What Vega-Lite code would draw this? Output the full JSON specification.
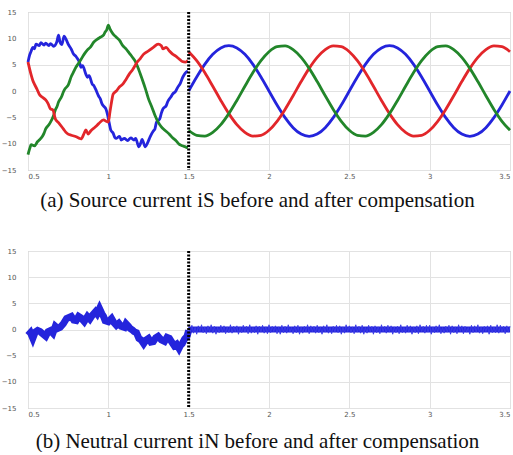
{
"$schema": "https://vega.github.io/schema/vega-lite/v6.json",
"padding": {"left": 0, "top": 7, "right": 0, "bottom": 0},
"background": "white",
"spacing": 35,
"config": {
  "view": {"stroke": "#b8b8b8", "strokeWidth": 1},
  "axis": {"labelFont": "DejaVu Sans", "labelFontSize": 7, "labelColor": "#555555", "labelOverlap": false, "tickSize": 0, "domain": false, "gridColor": "#e2e2e2", "titleFont": "Liberation Serif", "titleFontSize": 21, "titleFontWeight": "normal", "titleColor": "#111111"}
},
"datasets": {
  "marker": [{"t": 1.5}],
  "top": [
    {"ph":"blue","seg":"pre","t":0.5,"v":5.5},{"ph":"blue","seg":"pre","t":0.51,"v":6.8},{"ph":"blue","seg":"pre","t":0.52,"v":7.6},{"ph":"blue","seg":"pre","t":0.53,"v":8.3},{"ph":"blue","seg":"pre","t":0.54,"v":8.0},{"ph":"blue","seg":"pre","t":0.55,"v":8.9},{"ph":"blue","seg":"pre","t":0.57,"v":8.6},{"ph":"blue","seg":"pre","t":0.58,"v":9.2},{"ph":"blue","seg":"pre","t":0.6,"v":8.7},{"ph":"blue","seg":"pre","t":0.61,"v":9.1},{"ph":"blue","seg":"pre","t":0.63,"v":8.6},{"ph":"blue","seg":"pre","t":0.64,"v":9.0},{"ph":"blue","seg":"pre","t":0.66,"v":8.5},{"ph":"blue","seg":"pre","t":0.68,"v":9.4},{"ph":"blue","seg":"pre","t":0.69,"v":10.6},{"ph":"blue","seg":"pre","t":0.7,"v":9.2},{"ph":"blue","seg":"pre","t":0.71,"v":8.8},{"ph":"blue","seg":"pre","t":0.725,"v":10.4},{"ph":"blue","seg":"pre","t":0.74,"v":9.6},{"ph":"blue","seg":"pre","t":0.75,"v":8.9},{"ph":"blue","seg":"pre","t":0.77,"v":7.9},{"ph":"blue","seg":"pre","t":0.78,"v":7.2},{"ph":"blue","seg":"pre","t":0.8,"v":6.5},{"ph":"blue","seg":"pre","t":0.82,"v":5.5},{"ph":"blue","seg":"pre","t":0.83,"v":4.5},{"ph":"blue","seg":"pre","t":0.84,"v":4.8},{"ph":"blue","seg":"pre","t":0.86,"v":3.2},{"ph":"blue","seg":"pre","t":0.87,"v":2.6},{"ph":"blue","seg":"pre","t":0.88,"v":2.9},{"ph":"blue","seg":"pre","t":0.9,"v":1.3},{"ph":"blue","seg":"pre","t":0.91,"v":1.0},{"ph":"blue","seg":"pre","t":0.92,"v":0.4},{"ph":"blue","seg":"pre","t":0.94,"v":-1.0},{"ph":"blue","seg":"pre","t":0.95,"v":-1.5},{"ph":"blue","seg":"pre","t":0.96,"v":-2.4},{"ph":"blue","seg":"pre","t":0.975,"v":-3.0},{"ph":"blue","seg":"pre","t":0.985,"v":-3.4},{"ph":"blue","seg":"pre","t":0.995,"v":-4.5},{"ph":"blue","seg":"pre","t":1.005,"v":-6.0},{"ph":"blue","seg":"pre","t":1.015,"v":-7.4},{"ph":"blue","seg":"pre","t":1.03,"v":-8.0},{"ph":"blue","seg":"pre","t":1.04,"v":-8.8},{"ph":"blue","seg":"pre","t":1.05,"v":-9.0},{"ph":"blue","seg":"pre","t":1.07,"v":-8.6},{"ph":"blue","seg":"pre","t":1.08,"v":-9.3},{"ph":"blue","seg":"pre","t":1.1,"v":-9.0},{"ph":"blue","seg":"pre","t":1.12,"v":-9.4},{"ph":"blue","seg":"pre","t":1.14,"v":-8.9},{"ph":"blue","seg":"pre","t":1.16,"v":-9.3},{"ph":"blue","seg":"pre","t":1.17,"v":-9.0},{"ph":"blue","seg":"pre","t":1.19,"v":-10.6},{"ph":"blue","seg":"pre","t":1.2,"v":-10.0},{"ph":"blue","seg":"pre","t":1.21,"v":-9.2},{"ph":"blue","seg":"pre","t":1.23,"v":-10.6},{"ph":"blue","seg":"pre","t":1.245,"v":-9.8},{"ph":"blue","seg":"pre","t":1.26,"v":-8.7},{"ph":"blue","seg":"pre","t":1.28,"v":-7.6},{"ph":"blue","seg":"pre","t":1.29,"v":-7.2},{"ph":"blue","seg":"pre","t":1.3,"v":-5.9},{"ph":"blue","seg":"pre","t":1.32,"v":-5.3},{"ph":"blue","seg":"pre","t":1.33,"v":-4.2},{"ph":"blue","seg":"pre","t":1.34,"v":-3.4},{"ph":"blue","seg":"pre","t":1.36,"v":-2.8},{"ph":"blue","seg":"pre","t":1.37,"v":-2.0},{"ph":"blue","seg":"pre","t":1.39,"v":-1.1},{"ph":"blue","seg":"pre","t":1.4,"v":-0.6},{"ph":"blue","seg":"pre","t":1.42,"v":0.0},{"ph":"blue","seg":"pre","t":1.43,"v":0.6},{"ph":"blue","seg":"pre","t":1.45,"v":1.6},{"ph":"blue","seg":"pre","t":1.46,"v":2.4},{"ph":"blue","seg":"pre","t":1.47,"v":3.0},{"ph":"blue","seg":"pre","t":1.485,"v":3.6},{"ph":"blue","seg":"pre","t":1.495,"v":3.8},
    {"ph":"green","seg":"pre","t":0.5,"v":-12.1},{"ph":"green","seg":"pre","t":0.51,"v":-11.0},{"ph":"green","seg":"pre","t":0.52,"v":-10.2},{"ph":"green","seg":"pre","t":0.54,"v":-10.4},{"ph":"green","seg":"pre","t":0.56,"v":-9.6},{"ph":"green","seg":"pre","t":0.57,"v":-9.3},{"ph":"green","seg":"pre","t":0.59,"v":-8.6},{"ph":"green","seg":"pre","t":0.6,"v":-8.0},{"ph":"green","seg":"pre","t":0.61,"v":-7.2},{"ph":"green","seg":"pre","t":0.63,"v":-6.4},{"ph":"green","seg":"pre","t":0.64,"v":-5.9},{"ph":"green","seg":"pre","t":0.66,"v":-4.6},{"ph":"green","seg":"pre","t":0.67,"v":-3.6},{"ph":"green","seg":"pre","t":0.68,"v":-3.0},{"ph":"green","seg":"pre","t":0.69,"v":-2.1},{"ph":"green","seg":"pre","t":0.71,"v":-1.0},{"ph":"green","seg":"pre","t":0.72,"v":-0.2},{"ph":"green","seg":"pre","t":0.73,"v":0.4},{"ph":"green","seg":"pre","t":0.75,"v":1.1},{"ph":"green","seg":"pre","t":0.77,"v":2.8},{"ph":"green","seg":"pre","t":0.78,"v":3.4},{"ph":"green","seg":"pre","t":0.8,"v":4.6},{"ph":"green","seg":"pre","t":0.82,"v":5.5},{"ph":"green","seg":"pre","t":0.83,"v":6.0},{"ph":"green","seg":"pre","t":0.85,"v":7.0},{"ph":"green","seg":"pre","t":0.87,"v":7.8},{"ph":"green","seg":"pre","t":0.89,"v":8.4},{"ph":"green","seg":"pre","t":0.91,"v":9.3},{"ph":"green","seg":"pre","t":0.93,"v":9.8},{"ph":"green","seg":"pre","t":0.95,"v":10.2},{"ph":"green","seg":"pre","t":0.97,"v":10.6},{"ph":"green","seg":"pre","t":0.98,"v":11.2},{"ph":"green","seg":"pre","t":0.99,"v":11.6},{"ph":"green","seg":"pre","t":1.0,"v":12.5},{"ph":"green","seg":"pre","t":1.01,"v":11.8},{"ph":"green","seg":"pre","t":1.03,"v":10.8},{"ph":"green","seg":"pre","t":1.05,"v":10.2},{"ph":"green","seg":"pre","t":1.07,"v":9.6},{"ph":"green","seg":"pre","t":1.09,"v":8.6},{"ph":"green","seg":"pre","t":1.11,"v":8.0},{"ph":"green","seg":"pre","t":1.13,"v":7.2},{"ph":"green","seg":"pre","t":1.15,"v":6.4},{"ph":"green","seg":"pre","t":1.17,"v":5.5},{"ph":"green","seg":"pre","t":1.19,"v":4.0},{"ph":"green","seg":"pre","t":1.21,"v":2.3},{"ph":"green","seg":"pre","t":1.23,"v":0.5},{"ph":"green","seg":"pre","t":1.25,"v":-1.5},{"ph":"green","seg":"pre","t":1.27,"v":-3.0},{"ph":"green","seg":"pre","t":1.29,"v":-4.6},{"ph":"green","seg":"pre","t":1.31,"v":-5.9},{"ph":"green","seg":"pre","t":1.33,"v":-6.8},{"ph":"green","seg":"pre","t":1.35,"v":-7.4},{"ph":"green","seg":"pre","t":1.38,"v":-8.2},{"ph":"green","seg":"pre","t":1.4,"v":-8.9},{"ph":"green","seg":"pre","t":1.42,"v":-9.4},{"ph":"green","seg":"pre","t":1.44,"v":-10.1},{"ph":"green","seg":"pre","t":1.46,"v":-10.4},{"ph":"green","seg":"pre","t":1.48,"v":-10.6},{"ph":"green","seg":"pre","t":1.495,"v":-10.8},
    {"ph":"red","seg":"pre","t":0.5,"v":5.5},{"ph":"red","seg":"pre","t":0.51,"v":4.2},{"ph":"red","seg":"pre","t":0.52,"v":3.0},{"ph":"red","seg":"pre","t":0.53,"v":2.0},{"ph":"red","seg":"pre","t":0.54,"v":1.3},{"ph":"red","seg":"pre","t":0.555,"v":0.4},{"ph":"red","seg":"pre","t":0.57,"v":-0.6},{"ph":"red","seg":"pre","t":0.59,"v":-1.2},{"ph":"red","seg":"pre","t":0.61,"v":-1.7},{"ph":"red","seg":"pre","t":0.625,"v":-2.4},{"ph":"red","seg":"pre","t":0.64,"v":-3.4},{"ph":"red","seg":"pre","t":0.655,"v":-3.6},{"ph":"red","seg":"pre","t":0.67,"v":-5.3},{"ph":"red","seg":"pre","t":0.69,"v":-6.0},{"ph":"red","seg":"pre","t":0.72,"v":-7.2},{"ph":"red","seg":"pre","t":0.735,"v":-7.8},{"ph":"red","seg":"pre","t":0.75,"v":-8.2},{"ph":"red","seg":"pre","t":0.77,"v":-8.4},{"ph":"red","seg":"pre","t":0.8,"v":-8.7},{"ph":"red","seg":"pre","t":0.82,"v":-9.0},{"ph":"red","seg":"pre","t":0.83,"v":-9.1},{"ph":"red","seg":"pre","t":0.85,"v":-8.0},{"ph":"red","seg":"pre","t":0.86,"v":-7.4},{"ph":"red","seg":"pre","t":0.875,"v":-8.2},{"ph":"red","seg":"pre","t":0.89,"v":-7.6},{"ph":"red","seg":"pre","t":0.92,"v":-6.8},{"ph":"red","seg":"pre","t":0.94,"v":-6.2},{"ph":"red","seg":"pre","t":0.97,"v":-5.5},{"ph":"red","seg":"pre","t":0.99,"v":-5.8},{"ph":"red","seg":"pre","t":1.0,"v":-5.9},{"ph":"red","seg":"pre","t":1.01,"v":-4.0},{"ph":"red","seg":"pre","t":1.02,"v":-2.1},{"ph":"red","seg":"pre","t":1.03,"v":-0.6},{"ph":"red","seg":"pre","t":1.05,"v":0.0},{"ph":"red","seg":"pre","t":1.07,"v":0.8},{"ph":"red","seg":"pre","t":1.09,"v":1.3},{"ph":"red","seg":"pre","t":1.11,"v":2.2},{"ph":"red","seg":"pre","t":1.13,"v":3.2},{"ph":"red","seg":"pre","t":1.15,"v":4.0},{"ph":"red","seg":"pre","t":1.18,"v":5.5},{"ph":"red","seg":"pre","t":1.2,"v":6.2},{"ph":"red","seg":"pre","t":1.22,"v":7.0},{"ph":"red","seg":"pre","t":1.25,"v":7.6},{"ph":"red","seg":"pre","t":1.28,"v":8.3},{"ph":"red","seg":"pre","t":1.31,"v":8.9},{"ph":"red","seg":"pre","t":1.33,"v":8.6},{"ph":"red","seg":"pre","t":1.34,"v":8.0},{"ph":"red","seg":"pre","t":1.36,"v":8.3},{"ph":"red","seg":"pre","t":1.38,"v":7.6},{"ph":"red","seg":"pre","t":1.4,"v":7.0},{"ph":"red","seg":"pre","t":1.42,"v":6.6},{"ph":"red","seg":"pre","t":1.44,"v":6.1},{"ph":"red","seg":"pre","t":1.46,"v":5.6},{"ph":"red","seg":"pre","t":1.48,"v":5.5},{"ph":"red","seg":"pre","t":1.495,"v":5.8},
    {"ph":"blue","seg":"post","t":1.5,"v":0},{"ph":"blue","seg":"post","t":1.55,"v":2.66},{"ph":"blue","seg":"post","t":1.6,"v":5.06},{"ph":"blue","seg":"post","t":1.65,"v":6.96},{"ph":"blue","seg":"post","t":1.7,"v":8.18},{"ph":"blue","seg":"post","t":1.75,"v":8.6},{"ph":"blue","seg":"post","t":1.8,"v":8.18},{"ph":"blue","seg":"post","t":1.85,"v":6.96},{"ph":"blue","seg":"post","t":1.9,"v":5.06},{"ph":"blue","seg":"post","t":1.95,"v":2.66},{"ph":"blue","seg":"post","t":2.0,"v":0},{"ph":"blue","seg":"post","t":2.05,"v":-2.66},{"ph":"blue","seg":"post","t":2.1,"v":-5.06},{"ph":"blue","seg":"post","t":2.15,"v":-6.96},{"ph":"blue","seg":"post","t":2.2,"v":-8.18},{"ph":"blue","seg":"post","t":2.25,"v":-8.6},{"ph":"blue","seg":"post","t":2.3,"v":-8.18},{"ph":"blue","seg":"post","t":2.35,"v":-6.96},{"ph":"blue","seg":"post","t":2.4,"v":-5.06},{"ph":"blue","seg":"post","t":2.45,"v":-2.66},{"ph":"blue","seg":"post","t":2.5,"v":0},{"ph":"blue","seg":"post","t":2.55,"v":2.66},{"ph":"blue","seg":"post","t":2.6,"v":5.06},{"ph":"blue","seg":"post","t":2.65,"v":6.96},{"ph":"blue","seg":"post","t":2.7,"v":8.18},{"ph":"blue","seg":"post","t":2.75,"v":8.6},{"ph":"blue","seg":"post","t":2.8,"v":8.18},{"ph":"blue","seg":"post","t":2.85,"v":6.96},{"ph":"blue","seg":"post","t":2.9,"v":5.06},{"ph":"blue","seg":"post","t":2.95,"v":2.66},{"ph":"blue","seg":"post","t":3.0,"v":0},{"ph":"blue","seg":"post","t":3.05,"v":-2.66},{"ph":"blue","seg":"post","t":3.1,"v":-5.06},{"ph":"blue","seg":"post","t":3.15,"v":-6.96},{"ph":"blue","seg":"post","t":3.2,"v":-8.18},{"ph":"blue","seg":"post","t":3.25,"v":-8.6},{"ph":"blue","seg":"post","t":3.3,"v":-8.18},{"ph":"blue","seg":"post","t":3.35,"v":-6.96},{"ph":"blue","seg":"post","t":3.4,"v":-5.06},{"ph":"blue","seg":"post","t":3.45,"v":-2.66},{"ph":"blue","seg":"post","t":3.5,"v":0},
    {"ph":"red","seg":"post","t":1.5,"v":7.45},{"ph":"red","seg":"post","t":1.55,"v":5.75},{"ph":"red","seg":"post","t":1.6,"v":3.5},{"ph":"red","seg":"post","t":1.65,"v":0.9},{"ph":"red","seg":"post","t":1.7,"v":-1.79},{"ph":"red","seg":"post","t":1.75,"v":-4.3},{"ph":"red","seg":"post","t":1.8,"v":-6.39},{"ph":"red","seg":"post","t":1.85,"v":-7.86},{"ph":"red","seg":"post","t":1.9,"v":-8.56},{"ph":"red","seg":"post","t":1.95,"v":-8.41},{"ph":"red","seg":"post","t":2.0,"v":-7.45},{"ph":"red","seg":"post","t":2.05,"v":-5.75},{"ph":"red","seg":"post","t":2.1,"v":-3.5},{"ph":"red","seg":"post","t":2.15,"v":-0.9},{"ph":"red","seg":"post","t":2.2,"v":1.79},{"ph":"red","seg":"post","t":2.25,"v":4.3},{"ph":"red","seg":"post","t":2.3,"v":6.39},{"ph":"red","seg":"post","t":2.35,"v":7.86},{"ph":"red","seg":"post","t":2.4,"v":8.56},{"ph":"red","seg":"post","t":2.45,"v":8.41},{"ph":"red","seg":"post","t":2.5,"v":7.45},{"ph":"red","seg":"post","t":2.55,"v":5.75},{"ph":"red","seg":"post","t":2.6,"v":3.5},{"ph":"red","seg":"post","t":2.65,"v":0.9},{"ph":"red","seg":"post","t":2.7,"v":-1.79},{"ph":"red","seg":"post","t":2.75,"v":-4.3},{"ph":"red","seg":"post","t":2.8,"v":-6.39},{"ph":"red","seg":"post","t":2.85,"v":-7.86},{"ph":"red","seg":"post","t":2.9,"v":-8.56},{"ph":"red","seg":"post","t":2.95,"v":-8.41},{"ph":"red","seg":"post","t":3.0,"v":-7.45},{"ph":"red","seg":"post","t":3.05,"v":-5.75},{"ph":"red","seg":"post","t":3.1,"v":-3.5},{"ph":"red","seg":"post","t":3.15,"v":-0.9},{"ph":"red","seg":"post","t":3.2,"v":1.79},{"ph":"red","seg":"post","t":3.25,"v":4.3},{"ph":"red","seg":"post","t":3.3,"v":6.39},{"ph":"red","seg":"post","t":3.35,"v":7.86},{"ph":"red","seg":"post","t":3.4,"v":8.56},{"ph":"red","seg":"post","t":3.45,"v":8.41},{"ph":"red","seg":"post","t":3.5,"v":7.45},
    {"ph":"green","seg":"post","t":1.5,"v":-7.45},{"ph":"green","seg":"post","t":1.55,"v":-8.41},{"ph":"green","seg":"post","t":1.6,"v":-8.56},{"ph":"green","seg":"post","t":1.65,"v":-7.86},{"ph":"green","seg":"post","t":1.7,"v":-6.39},{"ph":"green","seg":"post","t":1.75,"v":-4.3},{"ph":"green","seg":"post","t":1.8,"v":-1.79},{"ph":"green","seg":"post","t":1.85,"v":0.9},{"ph":"green","seg":"post","t":1.9,"v":3.5},{"ph":"green","seg":"post","t":1.95,"v":5.75},{"ph":"green","seg":"post","t":2.0,"v":7.45},{"ph":"green","seg":"post","t":2.05,"v":8.41},{"ph":"green","seg":"post","t":2.1,"v":8.56},{"ph":"green","seg":"post","t":2.15,"v":7.86},{"ph":"green","seg":"post","t":2.2,"v":6.39},{"ph":"green","seg":"post","t":2.25,"v":4.3},{"ph":"green","seg":"post","t":2.3,"v":1.79},{"ph":"green","seg":"post","t":2.35,"v":-0.9},{"ph":"green","seg":"post","t":2.4,"v":-3.5},{"ph":"green","seg":"post","t":2.45,"v":-5.75},{"ph":"green","seg":"post","t":2.5,"v":-7.45},{"ph":"green","seg":"post","t":2.55,"v":-8.41},{"ph":"green","seg":"post","t":2.6,"v":-8.56},{"ph":"green","seg":"post","t":2.65,"v":-7.86},{"ph":"green","seg":"post","t":2.7,"v":-6.39},{"ph":"green","seg":"post","t":2.75,"v":-4.3},{"ph":"green","seg":"post","t":2.8,"v":-1.79},{"ph":"green","seg":"post","t":2.85,"v":0.9},{"ph":"green","seg":"post","t":2.9,"v":3.5},{"ph":"green","seg":"post","t":2.95,"v":5.75},{"ph":"green","seg":"post","t":3.0,"v":7.45},{"ph":"green","seg":"post","t":3.05,"v":8.41},{"ph":"green","seg":"post","t":3.1,"v":8.56},{"ph":"green","seg":"post","t":3.15,"v":7.86},{"ph":"green","seg":"post","t":3.2,"v":6.39},{"ph":"green","seg":"post","t":3.25,"v":4.3},{"ph":"green","seg":"post","t":3.3,"v":1.79},{"ph":"green","seg":"post","t":3.35,"v":-0.9},{"ph":"green","seg":"post","t":3.4,"v":-3.5},{"ph":"green","seg":"post","t":3.45,"v":-5.75},{"ph":"green","seg":"post","t":3.5,"v":-7.45}
  ],
  "bottom": [
    {"k":"pre","t":0.5,"v":-1.1},{"k":"pre","t":0.515,"v":-0.6},{"k":"pre","t":0.53,"v":-1.7},{"k":"pre","t":0.545,"v":-0.5},{"k":"pre","t":0.56,"v":-0.2},{"k":"pre","t":0.575,"v":-0.4},{"k":"pre","t":0.59,"v":-0.8},{"k":"pre","t":0.61,"v":-1.3},{"k":"pre","t":0.625,"v":-0.4},{"k":"pre","t":0.64,"v":-0.2},{"k":"pre","t":0.655,"v":-0.7},{"k":"pre","t":0.67,"v":0.6},{"k":"pre","t":0.685,"v":0.2},{"k":"pre","t":0.7,"v":0.4},{"k":"pre","t":0.72,"v":1.1},{"k":"pre","t":0.74,"v":2.1},{"k":"pre","t":0.755,"v":2.3},{"k":"pre","t":0.77,"v":2.5},{"k":"pre","t":0.785,"v":1.8},{"k":"pre","t":0.8,"v":1.7},{"k":"pre","t":0.815,"v":2.5},{"k":"pre","t":0.83,"v":2.2},{"k":"pre","t":0.85,"v":1.5},{"k":"pre","t":0.87,"v":2.5},{"k":"pre","t":0.885,"v":2.0},{"k":"pre","t":0.9,"v":2.7},{"k":"pre","t":0.92,"v":3.4},{"k":"pre","t":0.93,"v":3.0},{"k":"pre","t":0.945,"v":4.0},{"k":"pre","t":0.96,"v":3.0},{"k":"pre","t":0.97,"v":2.5},{"k":"pre","t":0.98,"v":1.7},{"k":"pre","t":1.0,"v":1.5},{"k":"pre","t":1.02,"v":2.1},{"k":"pre","t":1.035,"v":1.3},{"k":"pre","t":1.05,"v":0.8},{"k":"pre","t":1.065,"v":1.2},{"k":"pre","t":1.08,"v":0.6},{"k":"pre","t":1.1,"v":0.4},{"k":"pre","t":1.11,"v":1.1},{"k":"pre","t":1.125,"v":0.6},{"k":"pre","t":1.135,"v":0.2},{"k":"pre","t":1.15,"v":-0.1},{"k":"pre","t":1.16,"v":-0.4},{"k":"pre","t":1.175,"v":-0.6},{"k":"pre","t":1.19,"v":-1.7},{"k":"pre","t":1.205,"v":-2.0},{"k":"pre","t":1.22,"v":-2.7},{"k":"pre","t":1.235,"v":-2.0},{"k":"pre","t":1.25,"v":-1.7},{"k":"pre","t":1.265,"v":-2.4},{"k":"pre","t":1.28,"v":-2.3},{"k":"pre","t":1.295,"v":-1.6},{"k":"pre","t":1.31,"v":-1.3},{"k":"pre","t":1.33,"v":-2.0},{"k":"pre","t":1.35,"v":-2.3},{"k":"pre","t":1.365,"v":-1.5},{"k":"pre","t":1.38,"v":-1.7},{"k":"pre","t":1.395,"v":-2.4},{"k":"pre","t":1.41,"v":-3.1},{"k":"pre","t":1.425,"v":-2.8},{"k":"pre","t":1.44,"v":-3.6},{"k":"pre","t":1.45,"v":-3.0},{"k":"pre","t":1.46,"v":-2.7},{"k":"pre","t":1.475,"v":-1.8},{"k":"pre","t":1.49,"v":-1.3},{"k":"pre","t":1.5,"v":-0.2},
    {"k":"base","t":1.5,"v":0},{"k":"base","t":3.5,"v":0},
    {"k":"noise","t":1.50,"v":0.6},{"k":"noise","t":1.51,"v":-0.5},{"k":"noise","t":1.52,"v":0.8},{"k":"noise","t":1.53,"v":-0.7},{"k":"noise","t":1.54,"v":0.4},{"k":"noise","t":1.55,"v":-0.9},{"k":"noise","t":1.56,"v":0.7},{"k":"noise","t":1.57,"v":-0.4},{"k":"noise","t":1.58,"v":0.9},{"k":"noise","t":1.59,"v":-0.6},
    {"k":"noise","t":1.60,"v":0.5},{"k":"noise","t":1.61,"v":-0.8},{"k":"noise","t":1.62,"v":0.7},{"k":"noise","t":1.63,"v":-0.5},{"k":"noise","t":1.64,"v":0.9},{"k":"noise","t":1.65,"v":-0.7},{"k":"noise","t":1.66,"v":0.6},{"k":"noise","t":1.67,"v":-0.9},{"k":"noise","t":1.68,"v":0.4},{"k":"noise","t":1.69,"v":-0.6},
    {"k":"noise","t":1.70,"v":0.8},{"k":"noise","t":1.71,"v":-0.5},{"k":"noise","t":1.72,"v":0.7},{"k":"noise","t":1.73,"v":-0.8},{"k":"noise","t":1.74,"v":0.5},{"k":"noise","t":1.75,"v":-0.6},{"k":"noise","t":1.76,"v":0.9},{"k":"noise","t":1.77,"v":-0.7},{"k":"noise","t":1.78,"v":0.6},{"k":"noise","t":1.79,"v":-0.4},
    {"k":"noise","t":1.80,"v":0.7},{"k":"noise","t":1.81,"v":-0.9},{"k":"noise","t":1.82,"v":0.5},{"k":"noise","t":1.83,"v":-0.6},{"k":"noise","t":1.84,"v":0.8},{"k":"noise","t":1.85,"v":-0.5},{"k":"noise","t":1.86,"v":0.6},{"k":"noise","t":1.87,"v":-0.8},{"k":"noise","t":1.88,"v":0.9},{"k":"noise","t":1.89,"v":-0.7},
    {"k":"noise","t":1.90,"v":0.4},{"k":"noise","t":1.91,"v":-0.6},{"k":"noise","t":1.92,"v":0.7},{"k":"noise","t":1.93,"v":-0.9},{"k":"noise","t":1.94,"v":0.6},{"k":"noise","t":1.95,"v":-0.5},{"k":"noise","t":1.96,"v":0.8},{"k":"noise","t":1.97,"v":-0.7},{"k":"noise","t":1.98,"v":0.5},{"k":"noise","t":1.99,"v":-0.8},
    {"k":"noise","t":2.00,"v":0.9},{"k":"noise","t":2.01,"v":-0.6},{"k":"noise","t":2.02,"v":0.6},{"k":"noise","t":2.03,"v":-0.4},{"k":"noise","t":2.04,"v":0.7},{"k":"noise","t":2.05,"v":-0.8},{"k":"noise","t":2.06,"v":0.5},{"k":"noise","t":2.07,"v":-0.9},{"k":"noise","t":2.08,"v":0.8},{"k":"noise","t":2.09,"v":-0.6},
    {"k":"noise","t":2.10,"v":0.6},{"k":"noise","t":2.11,"v":-0.7},{"k":"noise","t":2.12,"v":0.9},{"k":"noise","t":2.13,"v":-0.5},{"k":"noise","t":2.14,"v":0.4},{"k":"noise","t":2.15,"v":-0.8},{"k":"noise","t":2.16,"v":0.7},{"k":"noise","t":2.17,"v":-0.6},{"k":"noise","t":2.18,"v":0.8},{"k":"noise","t":2.19,"v":-0.9},
    {"k":"noise","t":2.20,"v":0.5},{"k":"noise","t":2.21,"v":-0.7},{"k":"noise","t":2.22,"v":0.6},{"k":"noise","t":2.23,"v":-0.5},{"k":"noise","t":2.24,"v":0.9},{"k":"noise","t":2.25,"v":-0.8},{"k":"noise","t":2.26,"v":0.7},{"k":"noise","t":2.27,"v":-0.4},{"k":"noise","t":2.28,"v":0.6},{"k":"noise","t":2.29,"v":-0.7},
    {"k":"noise","t":2.30,"v":0.8},{"k":"noise","t":2.31,"v":-0.6},{"k":"noise","t":2.32,"v":0.5},{"k":"noise","t":2.33,"v":-0.9},{"k":"noise","t":2.34,"v":0.7},{"k":"noise","t":2.35,"v":-0.5},{"k":"noise","t":2.36,"v":0.9},{"k":"noise","t":2.37,"v":-0.7},{"k":"noise","t":2.38,"v":0.4},{"k":"noise","t":2.39,"v":-0.8},
    {"k":"noise","t":2.40,"v":0.6},{"k":"noise","t":2.41,"v":-0.5},{"k":"noise","t":2.42,"v":0.8},{"k":"noise","t":2.43,"v":-0.6},{"k":"noise","t":2.44,"v":0.7},{"k":"noise","t":2.45,"v":-0.9},{"k":"noise","t":2.46,"v":0.5},{"k":"noise","t":2.47,"v":-0.7},{"k":"noise","t":2.48,"v":0.9},{"k":"noise","t":2.49,"v":-0.4},
    {"k":"noise","t":2.50,"v":0.7},{"k":"noise","t":2.51,"v":-0.6},{"k":"noise","t":2.52,"v":0.5},{"k":"noise","t":2.53,"v":-0.8},{"k":"noise","t":2.54,"v":0.9},{"k":"noise","t":2.55,"v":-0.5},{"k":"noise","t":2.56,"v":0.6},{"k":"noise","t":2.57,"v":-0.7},{"k":"noise","t":2.58,"v":0.8},{"k":"noise","t":2.59,"v":-0.9},
    {"k":"noise","t":2.60,"v":0.4},{"k":"noise","t":2.61,"v":-0.7},{"k":"noise","t":2.62,"v":0.8},{"k":"noise","t":2.63,"v":-0.5},{"k":"noise","t":2.64,"v":0.6},{"k":"noise","t":2.65,"v":-0.9},{"k":"noise","t":2.66,"v":0.7},{"k":"noise","t":2.67,"v":-0.6},{"k":"noise","t":2.68,"v":0.5},{"k":"noise","t":2.69,"v":-0.8},
    {"k":"noise","t":2.70,"v":0.9},{"k":"noise","t":2.71,"v":-0.4},{"k":"noise","t":2.72,"v":0.6},{"k":"noise","t":2.73,"v":-0.7},{"k":"noise","t":2.74,"v":0.8},{"k":"noise","t":2.75,"v":-0.5},{"k":"noise","t":2.76,"v":0.7},{"k":"noise","t":2.77,"v":-0.9},{"k":"noise","t":2.78,"v":0.5},{"k":"noise","t":2.79,"v":-0.6},
    {"k":"noise","t":2.80,"v":0.6},{"k":"noise","t":2.81,"v":-0.8},{"k":"noise","t":2.82,"v":0.9},{"k":"noise","t":2.83,"v":-0.6},{"k":"noise","t":2.84,"v":0.4},{"k":"noise","t":2.85,"v":-0.7},{"k":"noise","t":2.86,"v":0.8},{"k":"noise","t":2.87,"v":-0.5},{"k":"noise","t":2.88,"v":0.7},{"k":"noise","t":2.89,"v":-0.9},
    {"k":"noise","t":2.90,"v":0.5},{"k":"noise","t":2.91,"v":-0.6},{"k":"noise","t":2.92,"v":0.7},{"k":"noise","t":2.93,"v":-0.8},{"k":"noise","t":2.94,"v":0.9},{"k":"noise","t":2.95,"v":-0.4},{"k":"noise","t":2.96,"v":0.6},{"k":"noise","t":2.97,"v":-0.7},{"k":"noise","t":2.98,"v":0.8},{"k":"noise","t":2.99,"v":-0.5},
    {"k":"noise","t":3.00,"v":0.8},{"k":"noise","t":3.01,"v":-0.9},{"k":"noise","t":3.02,"v":0.5},{"k":"noise","t":3.03,"v":-0.6},{"k":"noise","t":3.04,"v":0.7},{"k":"noise","t":3.05,"v":-0.5},{"k":"noise","t":3.06,"v":0.9},{"k":"noise","t":3.07,"v":-0.8},{"k":"noise","t":3.08,"v":0.4},{"k":"noise","t":3.09,"v":-0.7},
    {"k":"noise","t":3.10,"v":0.6},{"k":"noise","t":3.11,"v":-0.5},{"k":"noise","t":3.12,"v":0.8},{"k":"noise","t":3.13,"v":-0.9},{"k":"noise","t":3.14,"v":0.7},{"k":"noise","t":3.15,"v":-0.6},{"k":"noise","t":3.16,"v":0.5},{"k":"noise","t":3.17,"v":-0.8},{"k":"noise","t":3.18,"v":0.9},{"k":"noise","t":3.19,"v":-0.4},
    {"k":"noise","t":3.20,"v":0.7},{"k":"noise","t":3.21,"v":-0.8},{"k":"noise","t":3.22,"v":0.6},{"k":"noise","t":3.23,"v":-0.5},{"k":"noise","t":3.24,"v":0.4},{"k":"noise","t":3.25,"v":-0.9},{"k":"noise","t":3.26,"v":0.8},{"k":"noise","t":3.27,"v":-0.6},{"k":"noise","t":3.28,"v":0.7},{"k":"noise","t":3.29,"v":-0.5},
    {"k":"noise","t":3.30,"v":0.9},{"k":"noise","t":3.31,"v":-0.7},{"k":"noise","t":3.32,"v":0.5},{"k":"noise","t":3.33,"v":-0.8},{"k":"noise","t":3.34,"v":0.6},{"k":"noise","t":3.35,"v":-0.4},{"k":"noise","t":3.36,"v":0.7},{"k":"noise","t":3.37,"v":-0.9},{"k":"noise","t":3.38,"v":0.8},{"k":"noise","t":3.39,"v":-0.6},
    {"k":"noise","t":3.40,"v":0.5},{"k":"noise","t":3.41,"v":-0.6},{"k":"noise","t":3.42,"v":0.9},{"k":"noise","t":3.43,"v":-0.7},{"k":"noise","t":3.44,"v":0.8},{"k":"noise","t":3.45,"v":-0.5},{"k":"noise","t":3.46,"v":0.6},{"k":"noise","t":3.47,"v":-0.8},{"k":"noise","t":3.48,"v":0.7},{"k":"noise","t":3.49,"v":-0.5},
    {"k":"noise","t":3.50,"v":0.6}
  ]
},
"vconcat": [
  {
    "width": 482,
    "height": 158,
    "layer": [
      {
        "data": {"name": "top"},
        "mark": {"type": "line", "strokeWidth": 2.8, "interpolate": "monotone"},
        "encoding": {
          "x": {"field": "t", "type": "quantitative", "scale": {"domain": [0.5, 3.5], "nice": false, "zero": false},
                "axis": {"values": [0.5, 1, 1.5, 2, 2.5, 3, 3.5], "format": "~g", "grid": true, "labelPadding": 2, "title": "(a) Source current iS before and after compensation", "titlePadding": 10, "titleX": 229}},
          "y": {"field": "v", "type": "quantitative", "scale": {"domain": [-15, 15], "nice": false, "zero": false},
                "axis": {"values": [-15, -10, -5, 0, 5, 10, 15], "format": "d", "grid": true, "labelPadding": 12, "title": null}},
          "color": {"field": "ph", "type": "nominal", "scale": {"domain": ["red", "green", "blue"], "range": ["#e2262a", "#22862a", "#2424dc"]}, "legend": null},
          "detail": {"field": "seg", "type": "nominal"}
        }
      },
      {
        "data": {"name": "marker"},
        "mark": {"type": "rule", "strokeWidth": 3, "strokeDash": [2, 1.5], "color": "#000000"},
        "encoding": {"x": {"field": "t", "type": "quantitative"}}
      }
    ]
  },
  {
    "width": 482,
    "height": 157,
    "data": {"name": "bottom"},
    "encoding": {
      "x": {"field": "t", "type": "quantitative", "scale": {"domain": [0.5, 3.5], "nice": false, "zero": false},
            "axis": {"values": [0.5, 1, 1.5, 2, 2.5, 3, 3.5], "format": "~g", "grid": true, "labelPadding": 2, "title": "(b) Neutral current iN before and after compensation", "titlePadding": 13, "titleX": 229}},
      "y": {"field": "v", "type": "quantitative", "scale": {"domain": [-15, 15], "nice": false, "zero": false},
            "axis": {"values": [-15, -10, -5, 0, 5, 10, 15], "format": "d", "grid": true, "labelPadding": 12, "title": null}}
    },
    "layer": [
      {
        "transform": [{"filter": "datum.k === 'pre'"}],
        "mark": {"type": "line", "strokeWidth": 7, "color": "#2424dc"}
      },
      {
        "transform": [{"filter": "datum.k === 'base'"}],
        "mark": {"type": "line", "strokeWidth": 6, "color": "#2424dc"}
      },
      {
        "transform": [{"filter": "datum.k === 'noise'"}],
        "mark": {"type": "line", "strokeWidth": 1, "color": "#3a3ae6"}
      },
      {
        "data": {"name": "marker"},
        "mark": {"type": "rule", "strokeWidth": 3, "strokeDash": [2, 1.5], "color": "#000000"},
        "encoding": {"x": {"field": "t", "type": "quantitative"}, "y": null}
      }
    ]
  }
]
}
